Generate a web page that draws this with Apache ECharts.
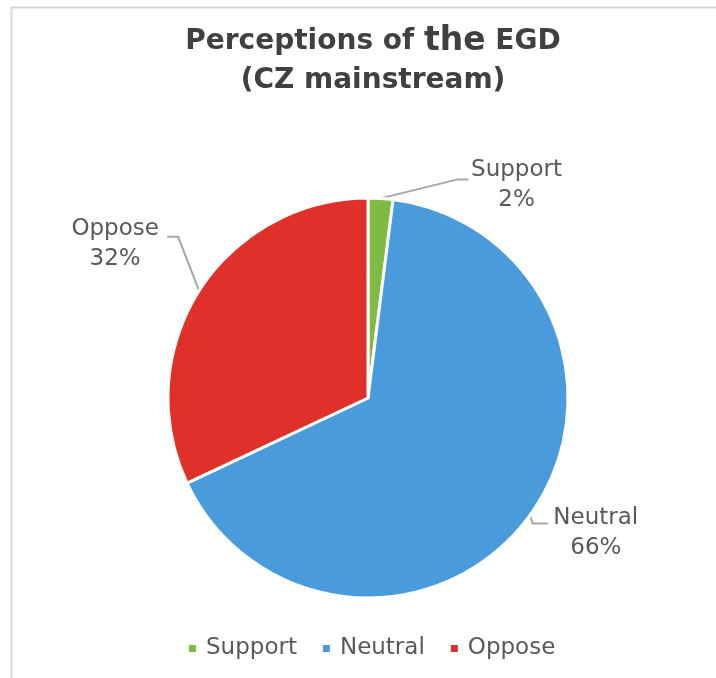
<!DOCTYPE html>
<html>
<head>
<meta charset="utf-8">
<script src="https://cdn.jsdelivr.net/npm/echarts@6/dist/echarts.min.js"></script>
<style>
html,body{margin:0;padding:0;background:#fff;}
#c{width:716px;height:678px;}
</style>
</head>
<body>
<div id="c"></div>
<script>
var categories = ['Support', 'Neutral', 'Oppose'];
var values = [2, 66, 32];
var colors = ['#7fba42', '#4a9bdc', '#e0302a'];

// label offsets relative to the label line start (style)
var labelOffsets = [
  { dx: 136, dy: -13, line: [[77, -19], [88, -19]] },
  { dx: 66, dy: 17, line: [[3, 8], [18, 8]] },
  { dx: -84, dy: -47, line: [[-21, -54], [-32, -54]] }
];

var font = 'DejaVu Sans';
var chart = echarts.init(document.getElementById('c'), null, { renderer: 'canvas' });
chart.setOption({
  backgroundColor: '#fff',
  animation: false,
  graphic: [{
    type: 'rect', left: 9, top: 5, silent: true,
    shape: { width: 760, height: 720 },
    style: { fill: 'none', stroke: '#d9d9d9', lineWidth: 2 }
  }],
  title: {
    left: 368, top: 17, textAlign: 'center',
    text: '{a|Perceptions of }{b|the}{a| EGD}\n{a|(CZ mainstream)}',
    textStyle: {
      rich: {
        a: { fontFamily: font, fontWeight: 'bold', fontSize: 28, color: '#404040', lineHeight: 39 },
        b: { fontFamily: font, fontWeight: 'bold', fontSize: 33, color: '#404040', lineHeight: 39 }
      }
    }
  },
  legend: {
    left: 182, top: 632,
    icon: 'rect', itemWidth: 9, itemHeight: 9, itemGap: 24,
    textStyle: { fontFamily: font, fontSize: 23, color: '#595959', padding: [0, 0, 0, 4] },
    data: categories
  },
  series: [{
    type: 'pie',
    center: [368, 398],
    radius: 200,
    startAngle: 90,
    clockwise: true,
    itemStyle: { borderColor: '#fff', borderWidth: 3 },
    label: {
      show: true,
      position: 'outside',
      formatter: function (p) { return p.name + '\n' + p.value + '%'; },
      fontFamily: font, fontSize: 23, color: '#595959', lineHeight: 30, align: 'center'
    },
    labelLine: { show: true, length: 20, length2: 10, lineStyle: { color: '#a6a6a6', width: 2 } },
    labelLayout: function (params) {
      var p0 = params.labelLinePoints[0];
      var o = labelOffsets[params.dataIndex];
      return {
        x: p0[0] + o.dx,
        y: p0[1] + o.dy,
        align: 'center',
        verticalAlign: 'middle',
        labelLinePoints: [p0, [p0[0] + o.line[0][0], p0[1] + o.line[0][1]], [p0[0] + o.line[1][0], p0[1] + o.line[1][1]]]
      };
    },
    data: categories.map(function (c, i) {
      return { name: c, value: values[i], itemStyle: { color: colors[i] } };
    })
  }]
});
</script>
</body>
</html>
